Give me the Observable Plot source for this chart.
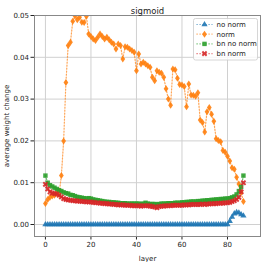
<!DOCTYPE html>
<html><head><meta charset="utf-8">
<script src="https://cdn.jsdelivr.net/npm/d3@7"></script>
<script src="https://cdn.jsdelivr.net/npm/@observablehq/plot@0.6"></script>
<style>
body{margin:0;background:#fff;}
#wrap{position:relative;width:266px;height:262px;}
</style></head><body><div id="wrap"></div>
<script>
const layers = [0,1,2,3,4,5,6,7,8,9,10,11,12,13,14,15,16,17,18,19,20,21,22,23,24,25,26,27,28,29,30,31,32,33,34,35,36,37,38,39,40,41,42,43,44,45,46,47,48,49,50,51,52,53,54,55,56,57,58,59,60,61,62,63,64,65,66,67,68,69,70,71,72,73,74,75,76,77,78,79,80,81,82,83,84,85,86,87];

const noNorm = [0,0,0,0,0,0,0,0,0,0, 0,0,0,0,0,0,0,0,0,0, 0,0,0,0,0,0,0,0,0,0, 0,0,0,0,0,0,0,0,0,0, 0,0,0,0,0,0,0,0,0,0, 0,0,0,0,0,0,0,0,0,0, 0,0,0,0,0,0,0,0,0,0, 0,0,0,0,0,0,0,0,0,0, 0,0.0008,0.0018,0.0026,0.0029,0.0028,0.0024,0.0021];

const norm = [0.0050,0.0060,0.0065,0.0068,0.0070,0.0075,0.0072,0.0117,0.0200,0.0340,
 0.0428,0.0436,0.0486,0.0499,0.0490,0.0496,0.0484,0.0483,0.0498,0.0456,
 0.0450,0.0444,0.0440,0.0448,0.0456,0.0450,0.0444,0.0448,0.0442,0.0436,
 0.0432,0.0420,0.0432,0.0428,0.0396,0.0425,0.0424,0.0420,0.0416,0.0412,
 0.0368,0.0408,0.0384,0.0388,0.0384,0.0380,0.0376,0.0352,0.0344,0.0368,
 0.0364,0.0362,0.0352,0.0325,0.0300,0.0285,0.0372,0.0370,0.0350,0.0335,
 0.0334,0.0330,0.0282,0.0336,0.0310,0.0309,0.0307,0.0315,0.0250,0.0244,
 0.0221,0.0270,0.0280,0.0264,0.0247,0.0205,0.0201,0.0198,0.0177,0.0173,
 0.0163,0.0152,0.0136,0.0132,0.0113,0.0097,0.0077,0.0055];

const bnNoNorm = [0.0117,0.0100,0.0094,0.0091,0.0088,0.0085,0.0082,0.0080,0.0077,0.0075,
 0.0074,0.0071,0.0070,0.0068,0.0066,0.0065,0.0064,0.0063,0.0062,0.0063,
 0.0062,0.0060,0.0059,0.0058,0.0057,0.0056,0.0055,0.0054,0.0054,0.0053,
 0.0053,0.0052,0.0052,0.0051,0.0051,0.0051,0.0050,0.0050,0.0050,0.0050,
 0.0050,0.0050,0.0049,0.0050,0.0052,0.0050,0.0049,0.0049,0.0049,0.0048,
 0.0049,0.0050,0.0050,0.0050,0.0051,0.0051,0.0051,0.0052,0.0052,0.0052,
 0.0053,0.0053,0.0054,0.0054,0.0055,0.0055,0.0055,0.0056,0.0056,0.0057,
 0.0057,0.0058,0.0058,0.0059,0.0059,0.0060,0.0060,0.0061,0.0061,0.0062,
 0.0062,0.0063,0.0065,0.0067,0.0072,0.0080,0.0090,0.0117];

const bnNorm = [0.0096,0.0085,0.0078,0.0075,0.0074,0.0073,0.0070,0.0066,0.0062,0.0060,
 0.0059,0.0058,0.0057,0.0057,0.0056,0.0056,0.0055,0.0055,0.0054,0.0054,
 0.0054,0.0053,0.0052,0.0052,0.0051,0.0051,0.0050,0.0050,0.0049,0.0049,
 0.0048,0.0048,0.0047,0.0047,0.0047,0.0046,0.0046,0.0046,0.0045,0.0045,
 0.0045,0.0045,0.0044,0.0045,0.0045,0.0045,0.0044,0.0043,0.0042,0.0040,
 0.0043,0.0044,0.0044,0.0045,0.0045,0.0045,0.0046,0.0046,0.0046,0.0046,
 0.0046,0.0047,0.0047,0.0047,0.0048,0.0048,0.0048,0.0048,0.0048,0.0049,
 0.0048,0.0049,0.0049,0.0050,0.0050,0.0050,0.0051,0.0051,0.0051,0.0052,
 0.0052,0.0053,0.0055,0.0057,0.0060,0.0065,0.0078,0.0100];

const seriesNames = ["no norm","norm","bn no norm","bn norm"];
const seriesColors = ["#1f77b4","#ff7f0e","#2ca02c","#d62728"];
const xTicks = [0,20,40,60,80];
const yTicks = [0.00,0.01,0.02,0.03,0.04,0.05];
const titleText = "sigmoid";
const xLabel = "layer";
const yLabel = "average weight change";

// custom marker symbols
const thinDiamond = {draw(ctx, size){const r=Math.sqrt(size/Math.PI); const w=r*0.68;
  ctx.moveTo(0,-r); ctx.lineTo(w,0); ctx.lineTo(0,r); ctx.lineTo(-w,0); ctx.closePath();}};
const filledX = {draw(ctx, size){const r=Math.sqrt(size/Math.PI)*1.25; const t=r*0.32;
  const pts=[[-t,-r],[t,-r],[t,-t],[r,-t],[r,t],[t,t],[t,r],[-t,r],[-t,t],[-r,t],[-r,-t],[-t,-t]]
    .map(([x,y])=>[(x-y)/Math.SQRT2,(x+y)/Math.SQRT2]);
  ctx.moveTo(pts[0][0],pts[0][1]); for(let i=1;i<pts.length;i++) ctx.lineTo(pts[i][0],pts[i][1]); ctx.closePath();}};
const seriesSymbols = ["triangle", thinDiamond, "square", filledX];
const seriesR = [2.3, 3.5, 2.5, 2.4];
const allValues = [noNorm, norm, bnNoNorm, bnNorm];

const marks = [];
marks.push(Plot.gridX(xTicks, {stroke:"#d0d0d0", strokeOpacity:1, strokeWidth:1}));
marks.push(Plot.gridY(yTicks, {stroke:"#d0d0d0", strokeOpacity:1, strokeWidth:1}));
allValues.forEach((vals, i) => {
  const rows = layers.map((l, j) => ({layer:l, value:vals[j]}));
  marks.push(Plot.line(rows, {x:"layer", y:"value", stroke:seriesColors[i], strokeWidth:1.2,
    strokeDasharray:"1.2,1.8", strokeOpacity:0.7, clip:true}));
  marks.push(Plot.dot(rows, {x:"layer", y:"value", fill:seriesColors[i], fillOpacity:0.9,
    symbol:seriesSymbols[i], r:seriesR[i], stroke:"none", clip:true}));
});
marks.push(Plot.frame({stroke:"#888", strokeWidth:1}));
marks.push(Plot.text([titleText], {frameAnchor:"top", dy:-8, fontSize:8.5, fill:"#222"}));

const chart = Plot.plot({
  width:266, height:262,
  marginLeft:34, marginRight:6, marginTop:15, marginBottom:26,
  style:{fontFamily:"DejaVu Sans, sans-serif", fontSize:"7px", color:"#222", background:"#fff"},
  x:{domain:[-4.8,94.5], ticks:xTicks, tickSize:3.5, tickPadding:2, label:xLabel, labelAnchor:"center", labelOffset:24, labelArrow:"none"},
  y:{domain:[-0.00287,0.05], ticks:yTicks, tickFormat:d3.format(".2f"), tickSize:3.5, tickPadding:2, label:yLabel, labelAnchor:"center", labelOffset:30, labelArrow:"none"},
  marks
});
document.getElementById("wrap").appendChild(chart);

// legend (upper right inside frame)
const svg = d3.select(chart);
const lg = svg.append("g").attr("transform","translate(193.5,18.5)");
lg.append("rect").attr("width",64).attr("height",41.5).attr("rx",2)
  .attr("fill","#fff").attr("fill-opacity",0.8).attr("stroke","#ccc").attr("stroke-width",0.8);
seriesNames.forEach((name, i) => {
  const y = 6 + i*9.7;
  lg.append("line").attr("x1",3).attr("x2",19).attr("y1",y).attr("y2",y)
    .attr("stroke",seriesColors[i]).attr("stroke-width",1.2).attr("stroke-dasharray","1.2,1.8").attr("stroke-opacity",0.7);
  const sym = typeof seriesSymbols[i] === "string"
    ? (seriesSymbols[i] === "triangle" ? d3.symbolTriangle : d3.symbolSquare) : seriesSymbols[i];
  lg.append("path").attr("d", d3.symbol(sym, seriesR[i]*seriesR[i]*Math.PI)())
    .attr("transform",`translate(11,${y})`).attr("fill",seriesColors[i]).attr("fill-opacity",0.9);
  lg.append("text").attr("x",23).attr("y",y).attr("dy","0.35em").attr("text-anchor","start")
    .attr("font-size",7).attr("fill","#222").text(name);
});
</script></body></html>
